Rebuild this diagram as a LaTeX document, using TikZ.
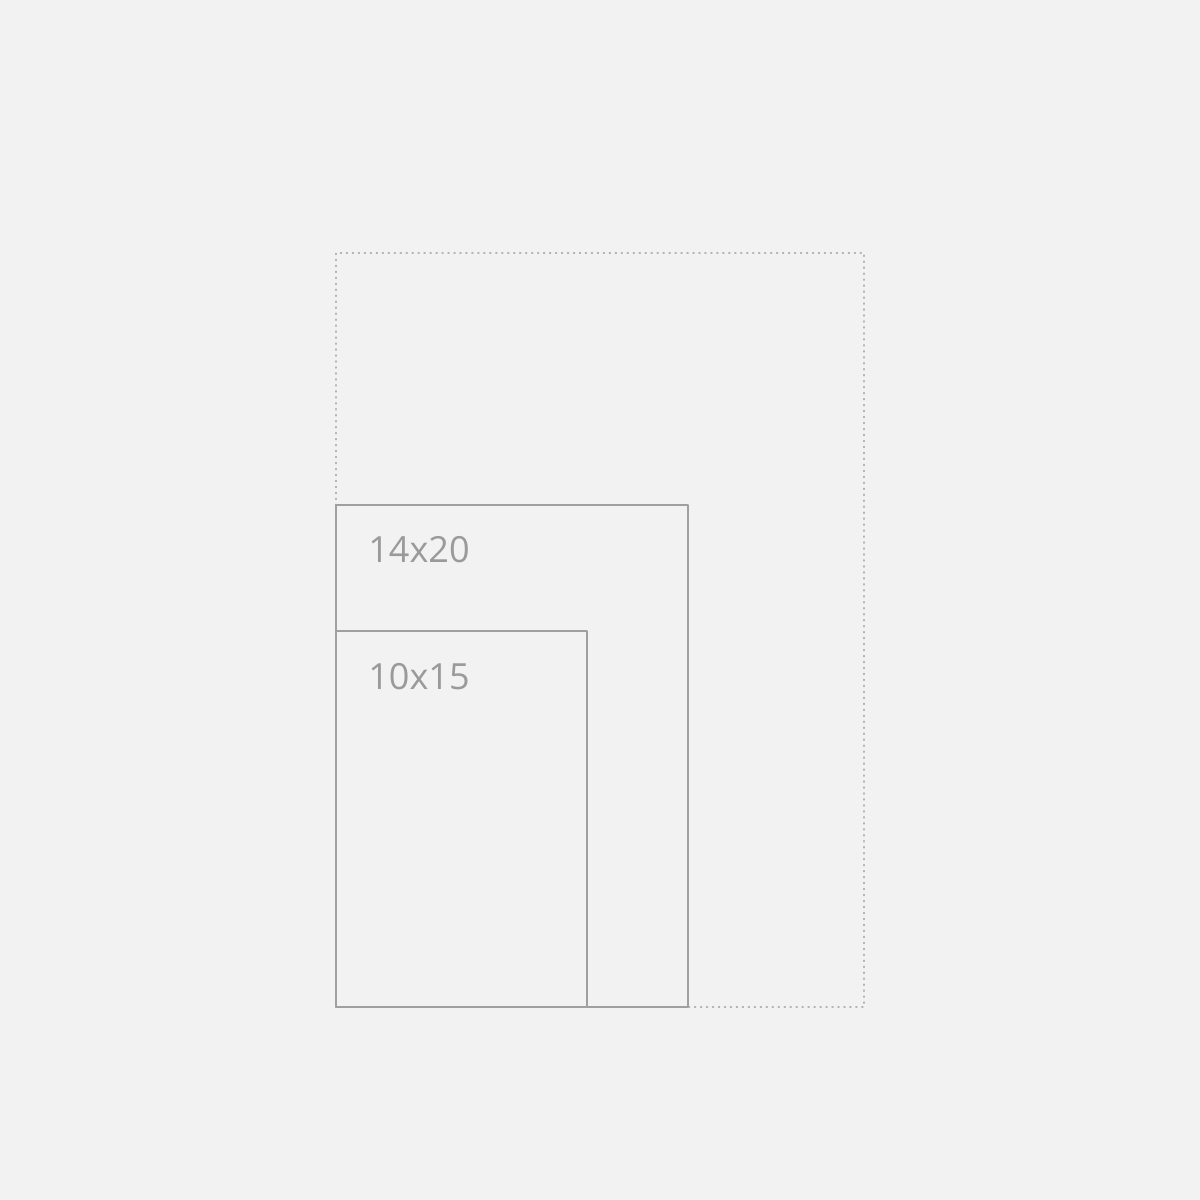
\documentclass[tikz,border=0pt]{standalone}
\usepackage{fontspec}
\setmainfont{Open Sans}
\usepackage{tkz-euclide}
\definecolor{paper}{HTML}{F2F2F2}
\definecolor{frame}{HTML}{A0A0A0}
\definecolor{dots}{HTML}{B4B4B4}
\definecolor{label}{HTML}{9A9A9A}
\tikzset{sizebox/.style={draw=frame,line width=1.1pt},
  maxbox/.style={draw=dots,line width=0.7pt,dash pattern=on 0.7pt off 2.7pt},
  sizelabel/.style={text=label,font=\fontsize{20.5}{24}\selectfont,anchor=center,inner sep=0pt}}
\begin{document}
\begin{tikzpicture}
                \fill[paper] (0,0) rectangle (24,24);
                \useasboundingbox (0,0) rectangle (24,24);
                \tkzDefPoints{6.72/3.86/A,17.28/3.86/B,17.28/18.94/C,6.72/18.94/D}
                \tkzDefPoints{13.76/3.86/E,13.76/13.9/F,6.72/13.9/G}
                \tkzDefPoints{11.74/3.86/H,11.74/11.38/I,6.72/11.38/J}
                \tkzDrawPolygon[maxbox](A,B,C,D)
                \tkzDrawPolygon[sizebox](A,E,F,G)
                \tkzDrawPolygon[sizebox](A,H,I,J)
                \node[sizelabel] (big) at (8.38,13.0) {14x20};
                \node[sizelabel] (small) at (8.38,10.46) {10x15};
            \end{tikzpicture}
\end{document}
